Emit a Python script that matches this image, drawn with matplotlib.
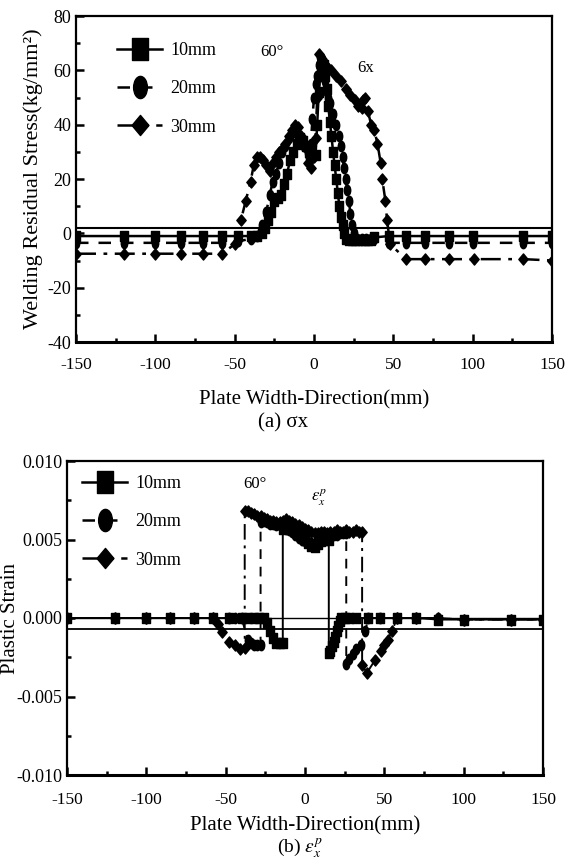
import matplotlib
matplotlib.use("Agg")
import matplotlib.pyplot as plt
from matplotlib.ticker import MultipleLocator, FormatStrFormatter
from matplotlib.lines import Line2D
from matplotlib.path import Path
from matplotlib.transforms import Affine2D

plt.rcParams['font.family'] = ['Liberation Serif', 'DejaVu Serif']
plt.rcParams['mathtext.fontset'] = 'stix'
plt.rcParams['axes.unicode_minus'] = False

# ---------------- (a) residual stress ----------------
labels = ["10mm", "20mm", "30mm"]

sx_x10 = [-150, -120, -100, -84, -70, -58, -48, -40, -36, -33, -31, -29, -27, -25, -23, -21, -19, -17,
          -15, -13, -11, -9, -7, -5, -3, -1, 1, 2, 3, 4, 5, 6, 7, 8, 9, 10, 11, 12, 13, 14, 15, 16, 17,
          18, 19, 20, 22, 24, 26, 28, 30, 32, 34, 36, 38, 47, 58, 70, 85, 100, 132, 150]
sx_y10 = [-1, -1, -1, -1, -1, -1, -1, -1, -1, 0, 2, 5, 8, 12, 13, 14, 18, 22,
          27, 30, 33, 35, 34, 32, 30, 29, 29, 40, 52, 58, 60, 62, 58, 53, 47, 41, 36, 30, 25, 20, 15, 10, 6,
          3, 0, -2, -2.5, -2.5, -2.5, -2.5, -2.5, -2.5, -2.5, -2.5, -1.5, -1, -1, -1, -1, -1, -1, -1]

sx_x20 = [-150, -120, -100, -84, -70, -58, -48, -40, -36, -33, -30, -28, -26, -24, -22, -20, -18, -16,
          -14, -12, -10, -8, -6, -4, -2, -1, 0, 1, 2, 3, 4, 5, 6, 7, 8, 9, 10, 12, 14, 16, 17, 18, 19,
          20, 21, 22, 23, 24, 25, 27, 30, 33, 36, 38, 47, 58, 70, 85, 100, 132, 150]
sx_y20 = [-3.5, -3.5, -3.5, -3.5, -3.5, -3.5, -3, -2, -1, 3, 8, 14, 19, 22, 26, 30, 32, 35,
          37, 38, 36, 34, 32, 31, 33, 42, 50, 55, 58, 62, 65, 64, 60, 56, 52, 50, 48, 44, 40, 36, 32, 28, 24,
          20, 16, 12, 7, 3, 0, -2, -2, -2, -2, -2, -3.5, -3.5, -3.5, -3.5, -3.5, -3.5, -3.5]

sx_x30 = [-150, -120, -100, -84, -70, -58, -50, -46, -43, -40, -38, -36, -34, -32, -30, -28, -26, -24,
          -22, -20, -18, -16, -14, -12, -10, -8, -6, -4, -2, 0, 1, 2, 3, 5, 7, 9, 11, 14, 17, 20, 23, 26,
          28, 30, 31, 32, 34, 36, 38, 40, 42, 43, 45, 46, 48, 58, 70, 85, 101, 132, 150]
sx_y30 = [-7.5, -7.5, -7.5, -7.5, -7.5, -7.5, -4, 5, 12, 19, 25, 28, 28, 27, 25, 23, 26, 28,
          30, 31, 33, 36, 38, 40, 39, 36, 32, 26, 24, 28, 35, 50, 66, 64, 62, 61, 60, 58, 56, 53, 51, 49,
          47, 46, 49, 50, 45, 40, 38, 33, 26, 20, 12, 5, -4, -9.5, -9.5, -9.5, -9.5, -9.5, -10]
sx_ref = 2

# ---------------- (b) plastic strain ----------------
ep_x10 = [-150, -120, -100, -85, -70, -58, -48, -40, -36, -32, -29, -26, -24, -22, -20, -18, -16, -14,
          -14, -12, -10, -8, -6, -4, -2, 0, 2, 4, 6, 8, 10, 12, 14, 15,
          15, 16, 17, 18, 19, 20, 21, 22, 23, 25, 28, 32, 40, 47, 58, 70, 84, 100, 130, 150]
ep_y10 = [0, 0, 0, 0, 0, 0, 0, 0, 0, 0, 0, 0, -0.0003, -0.0008, -0.0013, -0.0016, -0.0016, -0.0016,
          0.0057, 0.0059, 0.0060, 0.0058, 0.0057, 0.0055, 0.0053, 0.0050, 0.0048, 0.0046, 0.0045, 0.0047, 0.0049, 0.0050, 0.0051, 0.0050,
          -0.0022, -0.0021, -0.0018, -0.0015, -0.0012, -0.0008, -0.0005, -0.0002, 0, 0, 0, 0, 0, 0, 0, 0, -0.0001, -0.0001, -0.0001, -0.0001]

ep_x20 = [-150, -120, -100, -85, -70, -58, -48, -44, -40, -36, -34, -32, -30, -28,
          -28, -26, -24, -22, -20, -18, -16, -14, -12, -10, -8, -6, -4, -2, 0, 2, 4, 6, 8, 10, 12, 14, 16, 18, 20, 22, 24, 26,
          26, 28, 30, 32, 35, 38, 40, 47, 58, 70, 84, 100, 130, 150]
ep_y20 = [0, 0, 0, 0, 0, 0, 0, 0, 0, -0.0014, -0.0016, -0.0017, -0.0017, -0.0017,
          0.0061, 0.0062, 0.0061, 0.0060, 0.0060, 0.0059, 0.0059, 0.0058, 0.0057, 0.0056, 0.0055, 0.0053, 0.0051, 0.0050, 0.0049, 0.0048, 0.0047, 0.0048, 0.0049, 0.0050, 0.0051, 0.0052, 0.0052, 0.0053, 0.0053, 0.0054, 0.0054, 0.0054,
          -0.0029, -0.0026, -0.0023, -0.0020, -0.0017, -0.0008, 0, 0, 0, 0, 0, -0.0001, -0.0001, -0.0001]

ep_x30 = [-150, -120, -100, -85, -70, -58, -55, -52, -48, -44, -41, -38,
          -38, -36, -34, -32, -30, -28, -26, -24, -22, -20, -18, -16, -14, -12, -10, -8, -6, -4, -2, 0, 2, 4, 6, 8, 10,
          12, 14, 16, 18, 20, 22, 24, 26, 28, 30, 32, 34, 36,
          36, 39, 44, 48, 50, 52, 55, 58, 70, 84, 100, 130, 150]
ep_y30 = [0, 0, 0, 0, 0, 0, -0.0004, -0.0009, -0.0015, -0.0017, -0.0020, -0.0019,
          0.0068, 0.0068, 0.0067, 0.0066, 0.0065, 0.0065, 0.0064, 0.0063, 0.0062, 0.0062, 0.0061, 0.0061, 0.0062, 0.0063, 0.0062, 0.0061, 0.0060, 0.0059, 0.0058, 0.0057, 0.0056, 0.0055, 0.0054, 0.0054, 0.0055,
          0.0055, 0.0054, 0.0055, 0.0055, 0.0056, 0.0055, 0.0055, 0.0056, 0.0055, 0.0055, 0.0056, 0.0055, 0.0055,
          -0.0030, -0.0035, -0.0027, -0.0021, -0.0017, -0.0014, -0.0008, 0, 0, 0, -0.0001, -0.0001, -0.0001]
ep_ref = -0.0007

# slightly tall marker shapes, as in the scanned figure
m_square = Path([(-0.37, -0.5), (0.37, -0.5), (0.37, 0.5), (-0.37, 0.5), (-0.37, -0.5)],
                [Path.MOVETO, Path.LINETO, Path.LINETO, Path.LINETO, Path.CLOSEPOLY])
m_circle = Path.unit_circle().transformed(Affine2D().scale(0.62, 1.0))
m_diamond = Path([(0, -0.5), (0.42, 0), (0, 0.5), (-0.42, 0), (0, -0.5)],
                 [Path.MOVETO, Path.LINETO, Path.LINETO, Path.LINETO, Path.CLOSEPOLY])
markers = [m_square, m_circle, m_diamond]
lstyles = ['-', (0, (5, 4)), (0, (8, 3, 1.5, 3))]
data_ms = [7.5, 7.5, 8]
leg_ms = [16.5, 16, 14.5]

W, H = 574, 861
fig = plt.figure(figsize=(W / 100, H / 100), dpi=100)

def px_axes(l, r, t, b):
    return fig.add_axes([l / W, 1 - b / H, (r - l) / W, (b - t) / H])

ax1 = px_axes(76, 552, 16, 342)
ax2 = px_axes(67, 543, 461, 775)

def style_axes(ax, pad):
    for s in ax.spines.values():
        s.set_linewidth(1.6)
    ax.spines['bottom'].set_linewidth(2.2)
    ax.tick_params(which='both', direction='in', top=False, right=False, width=1.8)
    ax.tick_params(axis='y', labelsize=13)
    ax.tick_params(axis='x', labelsize=12.5, pad=pad)
    ax.tick_params(which='major', length=6)
    ax.tick_params(which='minor', length=3)
    ax.xaxis.set_major_locator(MultipleLocator(50))
    ax.xaxis.set_minor_locator(MultipleLocator(25))
    ax.set_xlim(-150, 150)

def legend(ax, x0, y0):
    handles = [Line2D([], [], color='black', lw=1.8, ls=ls, marker=m, ms=ms)
               for ls, m, ms in zip(lstyles, markers, leg_ms)]
    ax.legend(handles, labels, loc='upper left', bbox_to_anchor=(x0, y0), frameon=False, borderpad=0,
              fontsize=13, handlelength=2.5, labelspacing=1.18, handletextpad=0.45, borderaxespad=0)

# (a)
xs = [(sx_x10, sx_y10), (sx_x20, sx_y20), (sx_x30, sx_y30)]
for (x, y), ls, m, ms, lab in zip(xs, lstyles, markers, data_ms, labels):
    ax1.plot(x, y, color='black', lw=1.8, ls=ls, marker=m, ms=ms, label=lab)
ax1.axhline(sx_ref, color='black', lw=1.5)
style_axes(ax1, 10.5)
ax1.set_ylim(-40, 80)
ax1.yaxis.set_major_locator(MultipleLocator(20))
ax1.yaxis.set_minor_locator(MultipleLocator(10))
ax1.set_ylabel("Welding Residual Stress(kg/mm²)", fontsize=16, labelpad=3)
ax1.set_xlabel("Plate Width-Direction(mm)", fontsize=15, labelpad=13)
ax1.text(-34, 66.7, "60°", fontsize=12, va='center')
ax1.text(27, 61, "6x", fontsize=12, va='center')
ax1.text(0.435, -0.249, "(a) σx", transform=ax1.transAxes, ha='center', va='center', fontsize=15)
legend(ax1, 0.086, 0.92)

# (b)
es = [(ep_x10, ep_y10), (ep_x20, ep_y20), (ep_x30, ep_y30)]
for (x, y), ls, m, ms, lab in zip(es, lstyles, markers, data_ms, labels):
    ax2.plot(x, y, color='black', lw=1.4, ls=ls, marker=m, ms=ms, label=lab)
ax2.axhline(0, color='black', lw=1.0)
ax2.axhline(ep_ref, color='black', lw=1.3)
style_axes(ax2, 12.5)
ax2.set_ylim(-0.010, 0.010)
ax2.yaxis.set_major_locator(MultipleLocator(0.005))
ax2.yaxis.set_minor_locator(MultipleLocator(0.0025))
ax2.yaxis.set_major_formatter(FormatStrFormatter('%.3f'))
ax2.set_ylabel("Plastic Strain", fontsize=15)
ax2.yaxis.set_label_coords((20 - 67) / 476, 0.5)
ax2.set_xlabel("Plate Width-Direction(mm)", fontsize=15, labelpad=6)
ax2.text(-39, 0.00853, "60°", fontsize=12, va='center')
ax2.text(4, 0.0077, r"$\varepsilon_x^p$", fontsize=12, va='center')
ax2.text(0.49, -0.235, r"(b) $\varepsilon_x^p$", transform=ax2.transAxes, ha='center', va='center', fontsize=14)
legend(ax2, 0.0315, 0.955)

fig.savefig("out.png", dpi=100)
